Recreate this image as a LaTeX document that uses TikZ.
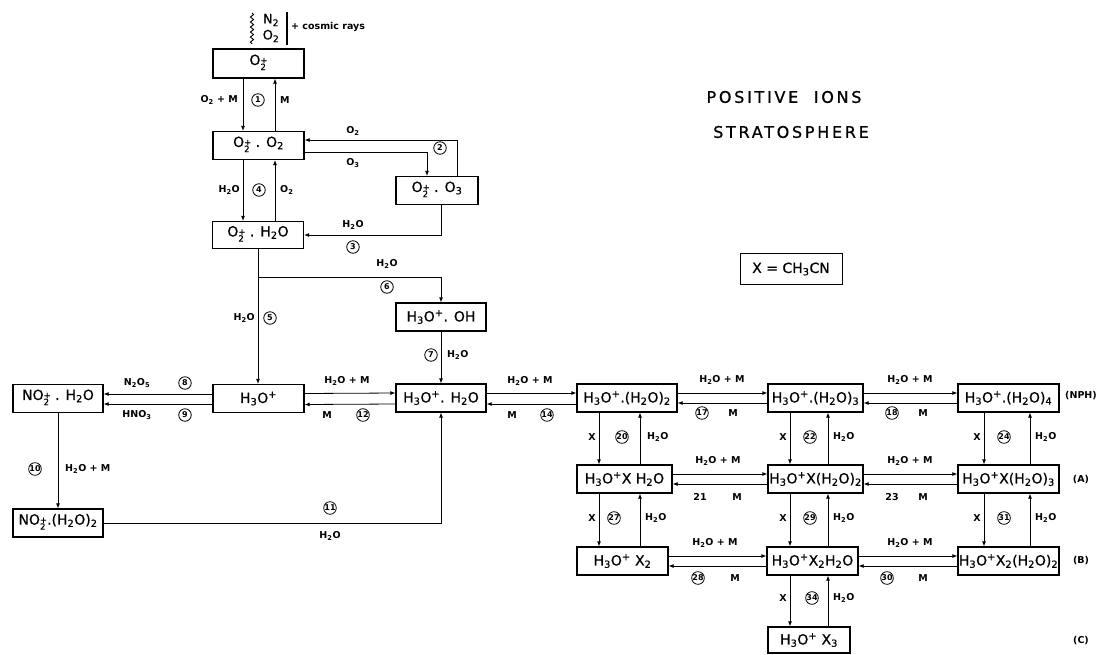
\documentclass[tikz,border=0pt]{standalone}
\usepackage{fontspec}
\setmainfont{DejaVu Sans}
\newfontfamily\lettr[LetterSpace=17,FakeBold=0.8]{DejaVu Sans}
\newfontfamily\boxf[FakeBold=0.6]{DejaVu Sans}
\usetikzlibrary{arrows.meta,decorations.pathmorphing}
\newcommand\sbs[1]{\textsubscript{#1}}
\newcommand\pls{\textsuperscript{+}}
\newcommand\stk[1]{\raisebox{-0.15em}{\fontsize{8.5}{8}\selectfont\begin{tabular}{@{}l@{}}+\\[-2pt]#1\end{tabular}}}
\begin{document}
\begin{tikzpicture}[x=1pt,y=-1pt,
 box/.style={draw,line width=1.3pt,minimum height=28pt,inner sep=0pt,font=\boxf\fontsize{14}{14}\selectfont},
 lab/.style={font=\bfseries\fontsize{9.5}{10}\selectfont,inner sep=1pt},
 num/.style={draw,circle,line width=0.8pt,inner sep=0pt,minimum size=12.5pt,font=\bfseries\fontsize{8}{8}\selectfont},
 arr/.style={line width=0.8pt,-{Latex[length=5pt,width=4pt]}},
 ln/.style={line width=0.8pt}]
\useasboundingbox (0,0) rectangle (1098,654);
% column coordinates
\coordinate (xa) at (243,0);
\coordinate (xb) at (275,0);
\coordinate (xc) at (258,0);
\coordinate (xd) at (457,0);
\coordinate (xe) at (427,0);
\coordinate (xf) at (441,0);
\coordinate (xL1) at (599,0);
\coordinate (xL2) at (640,0);
\coordinate (xM1) at (790,0);
\coordinate (xM2) at (828,0);
\coordinate (xR1) at (984,0);
\coordinate (xR2) at (1030,0);
% title
\node[font=\lettr\fontsize{16}{16}\selectfont] (t1) at (784,97) {POSITIVE\ \ IONS};
\node[font=\lettr\fontsize{16}{16}\selectfont] (t2) at (791,132) {STRATOSPHERE};
% source
\coordinate (w1) at (252,13);
\coordinate (w2) at (252,44);
\draw[line width=0.9pt,decorate,decoration={snake,amplitude=1.6pt,segment length=5pt}] (w1) -- (w2);
\node[font=\boxf\fontsize{13}{13}\selectfont,inner sep=0pt] (n2) at (271,20) {N\sbs{2}};
\node[font=\boxf\fontsize{13}{13}\selectfont,inner sep=0pt] (o2) at (271,36) {O\sbs{2}};
\coordinate (b1) at (287,12);
\coordinate (b2) at (287,45);
\draw[line width=1.3pt] (b1) -- (b2);
\node[lab,anchor=west] (cr) at (290,27) {+ cosmic rays};
% boxes
\node[box,minimum width=91pt,minimum height=29pt] (o2p) at (258.5,63.5) {O\stk{2}};
\node[box,minimum width=91pt] (o2o2) at (258.5,145.5) {O\stk{2} . O\sbs{2}};
\node[box,minimum width=82pt] (o2o3) at (437,190.5) {O\stk{2} . O\sbs{3}};
\node[box,minimum width=91pt,minimum height=27pt] (o2h2o) at (258,235) {O\stk{2} . H\sbs{2}O};
\node[box,minimum width=90pt] (h3ooh) at (441,317) {H\sbs{3}O\pls . OH};
\node[box,minimum width=90pt] (no2h2o) at (58,398.5) {NO\stk{2} . H\sbs{2}O};
\node[box,minimum width=91pt] (h3o) at (258.5,398.5) {H\sbs{3}O\pls};
\node[box,minimum width=90pt] (h3oh2o) at (441,398) {H\sbs{3}O\pls . H\sbs{2}O};
\node[box,minimum width=100pt] (r11) at (627,398) {H\sbs{3}O\pls.(H\sbs{2}O)\sbs{2}};
\node[box,minimum width=95pt] (r12) at (815.5,398) {H\sbs{3}O\pls.(H\sbs{2}O)\sbs{3}};
\node[box,minimum width=101pt] (r13) at (1008.5,398) {H\sbs{3}O\pls.(H\sbs{2}O)\sbs{4}};
\node[box,minimum width=95pt] (r21) at (624.5,479) {H\sbs{3}O\pls X H\sbs{2}O};
\node[box,minimum width=95pt] (r22) at (815.5,479) {H\sbs{3}O\pls X(H\sbs{2}O)\sbs{2}};
\node[box,minimum width=101pt] (r23) at (1008.5,479) {H\sbs{3}O\pls X(H\sbs{2}O)\sbs{3}};
\node[box,minimum width=91pt] (r31) at (622.5,561) {H\sbs{3}O\pls\ X\sbs{2}};
\node[box,minimum width=91pt] (r32) at (812.5,561) {H\sbs{3}O\pls X\sbs{2}H\sbs{2}O};
\node[box,minimum width=101pt] (r33) at (1008.5,561) {H\sbs{3}O\pls X\sbs{2}(H\sbs{2}O)\sbs{2}};
\node[box,minimum width=82pt,minimum height=26pt] (r42) at (809,640) {H\sbs{3}O\pls\ X\sbs{3}};
\node[box,minimum width=90pt] (no2h2o2) at (58,523) {NO\stk{2}.(H\sbs{2}O)\sbs{2}};
\node[box,minimum width=102pt,minimum height=31pt,line width=1pt] (xbox) at (791,269) {X = CH\sbs{3}CN};
% reaction 1
\draw[arr] (o2p.south -| xa) -- (o2o2.north -| xa);
\draw[arr] (o2o2.north -| xb) -- (o2p.south -| xb);
\node[lab,anchor=east] (l1a) at (239,100) {O\sbs{2} + M};
\node[num] (n1) at (258,100) {1};
\node[lab,anchor=west] (l1b) at (279,100) {M};
% reaction 2
\draw[arr] (o2o3.north -| xd) |- ([yshift=5.5pt]o2o2.east);
\draw[arr] ([yshift=-6.5pt]o2o2.east) -| (o2o3.north -| xe);
\node[lab] (l2a) at (353,131) {O\sbs{2}};
\node[lab] (l2b) at (353,163) {O\sbs{3}};
\node[num] (n2c) at (440,148) {2};
% reaction 3
\draw[arr] (o2o3.south -| xf) |- (o2h2o.east);
\node[lab] (l3) at (353,225) {H\sbs{2}O};
\node[num] (n3) at (353,247) {3};
% reaction 4
\draw[arr] (o2o2.south -| xa) -- (o2h2o.north -| xa);
\draw[arr] (o2h2o.north -| xb) -- (o2o2.south -| xb);
\node[lab,anchor=east] (l4a) at (241,190) {H\sbs{2}O};
\node[num] (n4) at (259,190) {4};
\node[lab,anchor=west] (l4b) at (279,190) {O\sbs{2}};
% reactions 5, 6
\coordinate (br) at (258,277);
\draw[arr] (o2h2o.south -| xc) -- (h3o.north -| xc);
\draw[arr] (br) -| (h3ooh.north);
\node[lab] (l6) at (387,264) {H\sbs{2}O};
\node[num] (n6) at (387,287) {6};
\node[lab,anchor=east] (l5) at (256,318) {H\sbs{2}O};
\node[num] (n5) at (270,318) {5};
% reaction 7
\draw[arr] (h3ooh.south) -- (h3oh2o.north -| h3ooh.south);
\node[num] (n7) at (431,355) {7};
\node[lab,anchor=west] (l7) at (446,355) {H\sbs{2}O};
% reactions 8, 9
\draw[arr] ([yshift=4.5pt]h3o.west) -- ([yshift=4.5pt]no2h2o.east);
\draw[arr] ([yshift=-5.5pt]h3o.west) -- ([yshift=-5.5pt]no2h2o.east);
\node[lab] (l8) at (137,383) {N\sbs{2}O\sbs{5}};
\node[num] (n8) at (185,383) {8};
\node[lab] (l9) at (137,415) {HNO\sbs{3}};
\node[num] (n9) at (185,415) {9};
% reaction 12
\draw[arr] ([yshift=5pt]h3o.east) -- ([yshift=5pt]h3oh2o.west);
\draw[arr] ([yshift=-6pt]h3oh2o.west) -- ([yshift=-6pt]h3o.east);
\node[lab] (l12a) at (347,381) {H\sbs{2}O + M};
\node[lab] (l12b) at (327,415) {M};
\node[num] (n12) at (363,415) {12};
% reaction 14
\draw[arr] ([yshift=5pt]h3oh2o.east) -- ([yshift=5pt]r11.west);
\draw[arr] ([yshift=-6pt]r11.west) -- ([yshift=-6pt]h3oh2o.east);
\node[lab] (l14a) at (530,381) {H\sbs{2}O + M};
\node[lab] (l14b) at (512,415) {M};
\node[num] (n14) at (547,415) {14};
% reaction 10, 11
\draw[arr] (no2h2o.south) -- (no2h2o2.north);
\node[num] (n10) at (35,469) {10};
\node[lab,anchor=west] (l10) at (64,469) {H\sbs{2}O + M};
\draw[arr] (no2h2o2.east) -| (h3oh2o.south);
\node[num] (n11) at (330,508) {11};
\node[lab] (l11) at (330,536) {H\sbs{2}O};
% grid horizontals
\foreach \a/\b in {r11/r12,r12/r13,r21/r22,r22/r23,r31/r32,r32/r33}{
  \draw[arr] ([yshift=5pt]\a.east) -- ([yshift=5pt]\b.west);
  \draw[arr] ([yshift=-5pt]\b.west) -- ([yshift=-5pt]\a.east);
}
\node[lab] (h17) at (722,380) {H\sbs{2}O + M};
\node[num] (n17) at (702,413) {17};
\node[lab] (m17) at (733,413) {M};
\node[lab] (h18) at (910,380) {H\sbs{2}O + M};
\node[num] (n18) at (892,413) {18};
\node[lab] (m18) at (923,413) {M};
\node[lab] (h21) at (718,461) {H\sbs{2}O + M};
\node[lab] (n21) at (700,497) {21};
\node[lab] (m21) at (737,497) {M};
\node[lab] (h23) at (910,461) {H\sbs{2}O + M};
\node[lab] (n23) at (892,497) {23};
\node[lab] (m23) at (923,497) {M};
\node[lab] (h28) at (715,543) {H\sbs{2}O + M};
\node[num] (n28) at (698,578) {28};
\node[lab] (m28) at (735,578) {M};
\node[lab] (h30) at (910,543) {H\sbs{2}O + M};
\node[num] (n30) at (887,578) {30};
\node[lab] (m30) at (923,578) {M};
% grid verticals
\foreach \a/\b/\p/\q in {r11/r21/xL1/xL2,r12/r22/xM1/xM2,r13/r23/xR1/xR2,r21/r31/xL1/xL2,r22/r32/xM1/xM2,r23/r33/xR1/xR2,r32/r42/xM1/xM2}{
  \draw[arr] (\a.south -| \p) -- (\b.north -| \p);
  \draw[arr] (\b.north -| \q) -- (\a.south -| \q);
}
\node[lab,anchor=east] (x20) at (597,437) {X};
\node[num] (n20) at (622,437) {20};
\node[lab,anchor=west] (w20) at (646,437) {H\sbs{2}O};
\node[lab,anchor=east] (x22) at (788,437) {X};
\node[num] (n22) at (810,437) {22};
\node[lab,anchor=west] (w22) at (832,437) {H\sbs{2}O};
\node[lab,anchor=east] (x24) at (982,437) {X};
\node[num] (n24) at (1004,437) {24};
\node[lab,anchor=west] (w24) at (1034,437) {H\sbs{2}O};
\node[lab,anchor=east] (x27) at (597,518) {X};
\node[num] (n27) at (614,518) {27};
\node[lab,anchor=west] (w27) at (644,518) {H\sbs{2}O};
\node[lab,anchor=east] (x29) at (788,518) {X};
\node[num] (n29) at (810,518) {29};
\node[lab,anchor=west] (w29) at (832,518) {H\sbs{2}O};
\node[lab,anchor=east] (x31) at (982,518) {X};
\node[num] (n31) at (1004,518) {31};
\node[lab,anchor=west] (w31) at (1034,518) {H\sbs{2}O};
\node[lab,anchor=east] (x34) at (788,598) {X};
\node[num] (n34) at (812,598) {34};
\node[lab,anchor=west] (w34) at (832,598) {H\sbs{2}O};
% side labels
\node[lab,anchor=west] (nph) at (1064,396) {(NPH)};
\node[lab] (sa) at (1081,480) {(A)};
\node[lab] (sb) at (1081,561) {(B)};
\node[lab] (sc) at (1081,641) {(C)};
\end{tikzpicture}
\end{document}
